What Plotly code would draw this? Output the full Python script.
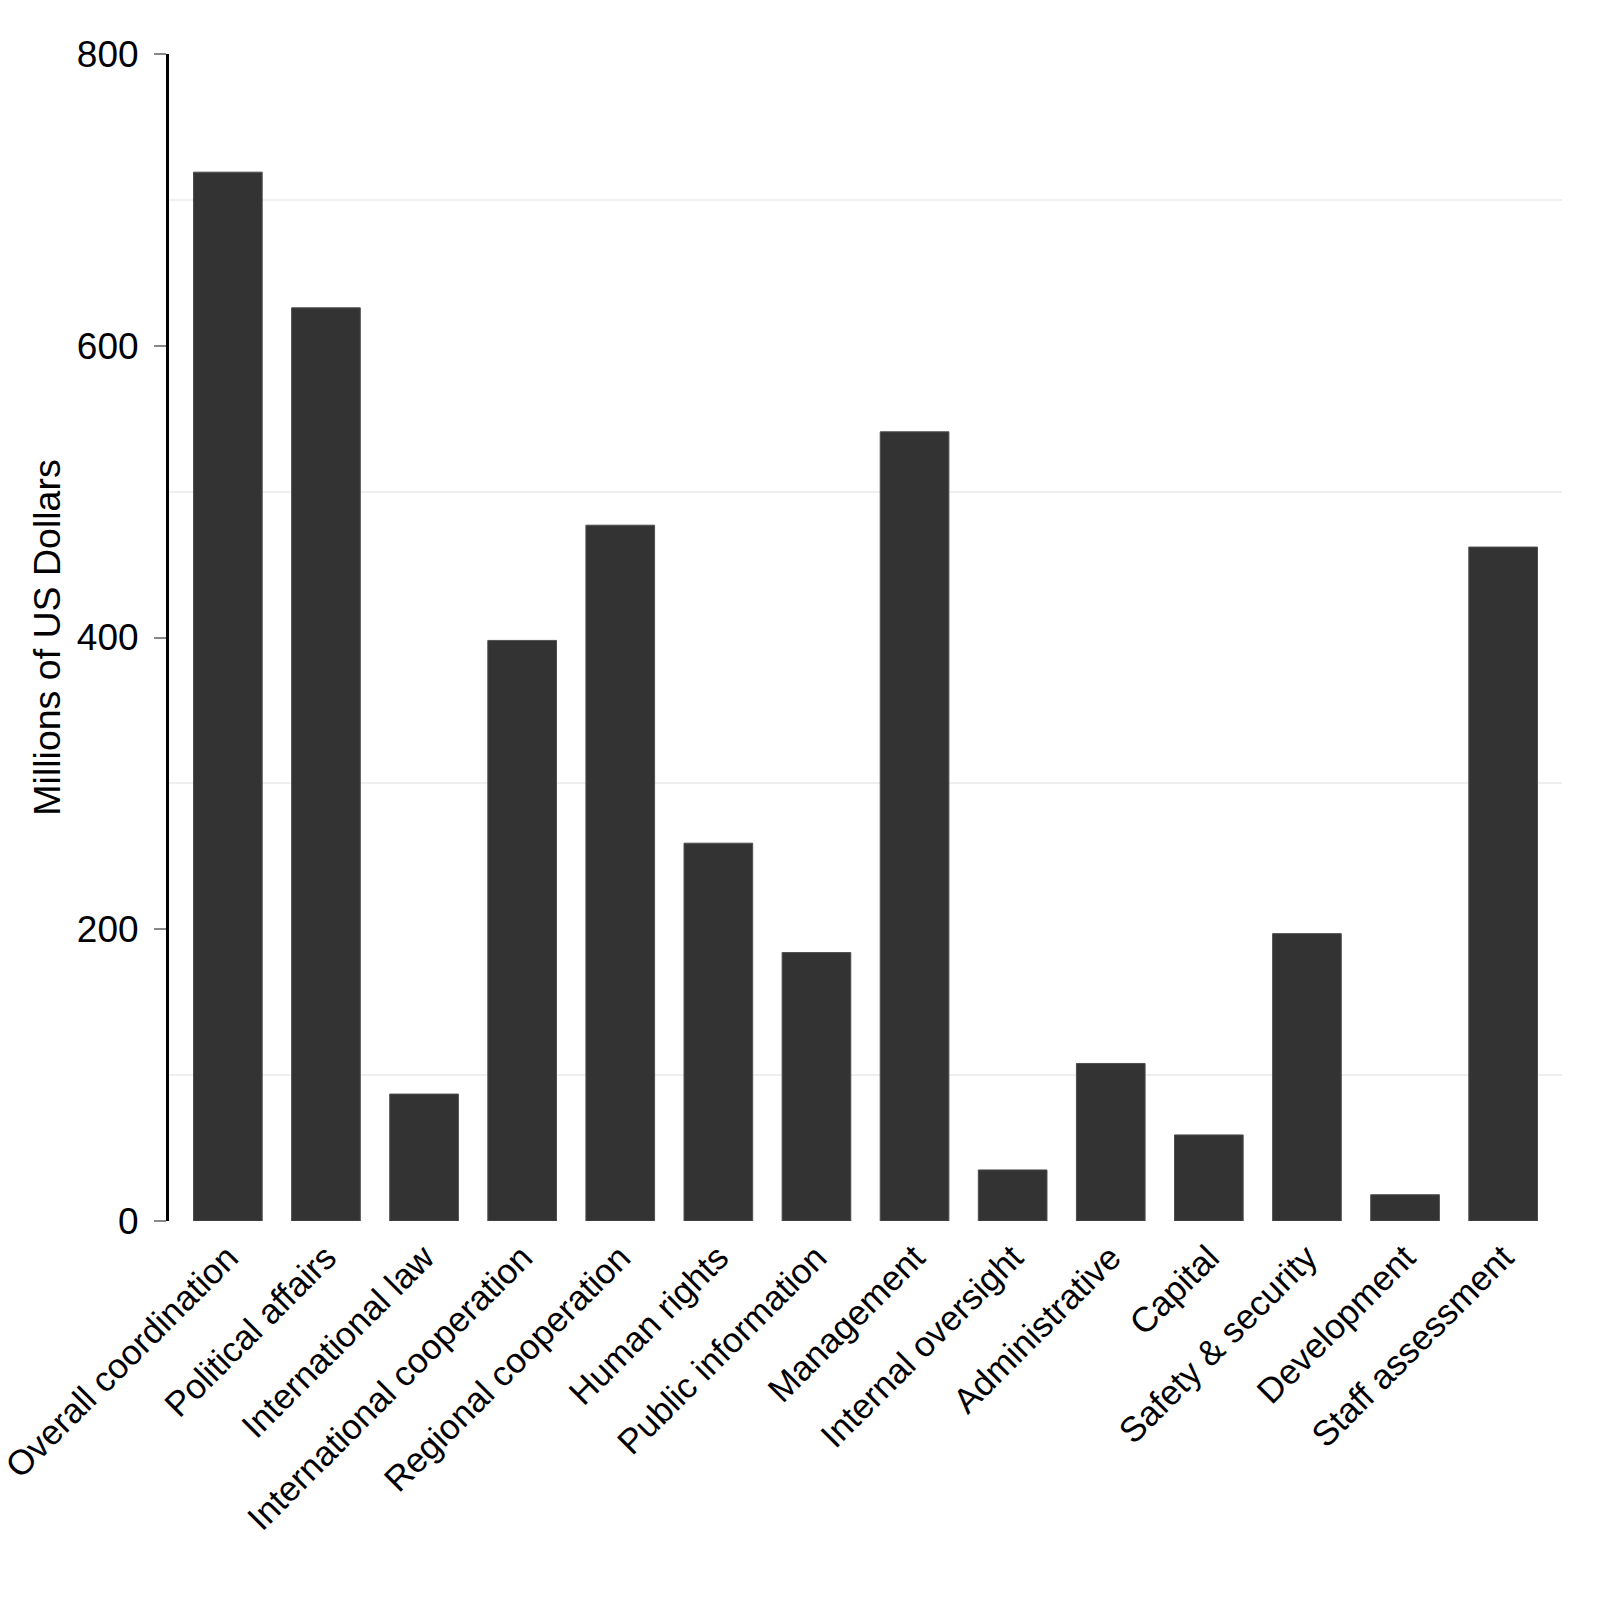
import plotly.graph_objects as go

# Categorias e valores (milhões de US$)
categorias = [
    "Overall coordination", "Political affairs", "International law",
    "International cooperation", "Regional cooperation", "Human rights",
    "Public information", "Management", "Internal oversight",
    "Administrative", "Capital", "Safety & security", "Development",
    "Staff assessment",
]
valores = [719, 626, 87, 398, 477, 259, 184, 541, 35, 108, 59, 197, 18, 462]

y_ticks = [0, 200, 400, 600, 800]
y_grade = [100, 300, 500, 700]  # linhas de grade só nos valores intermediários

fig = go.Figure()

fig.add_trace(go.Bar(
    x=categorias,
    y=valores,
    marker=dict(color="#333333", line=dict(width=1, color="#4d4d4d")),
    showlegend=False,
))

fig.update_layout(
    width=1600,
    height=1598,
    plot_bgcolor="white",
    paper_bgcolor="white",
    bargap=0.3,
    margin=dict(l=161, r=46, t=46, b=385),
    font=dict(family="Liberation Sans, Arial, sans-serif", size=35, color="black"),
    xaxis=dict(
        range=[-0.6, 13.6],
        automargin=False,
        showgrid=False,
        showline=False,
        ticks="",
        tickangle=-45,
        ticklabelstandoff=8,
        tickfont=dict(size=35, color="black"),
    ),
    yaxis=dict(
        title=dict(text="Millions of US Dollars", standoff=5, font=dict(size=37.5)),
        automargin=False,
        range=[0, 800],
        tickvals=y_ticks,
        showgrid=False,
        zeroline=False,
        showline=True,
        linecolor="black",
        linewidth=3,
        ticks="outside",
        ticklen=12,
        tickwidth=2,
        tickcolor="#888888",
        ticklabelstandoff=8,
        tickfont=dict(size=37, color="black"),
        minor=dict(tickvals=y_grade, showgrid=True, gridcolor="#efefef", gridwidth=1.5, ticks=""),
    ),
)

fig.write_html("out.html")
